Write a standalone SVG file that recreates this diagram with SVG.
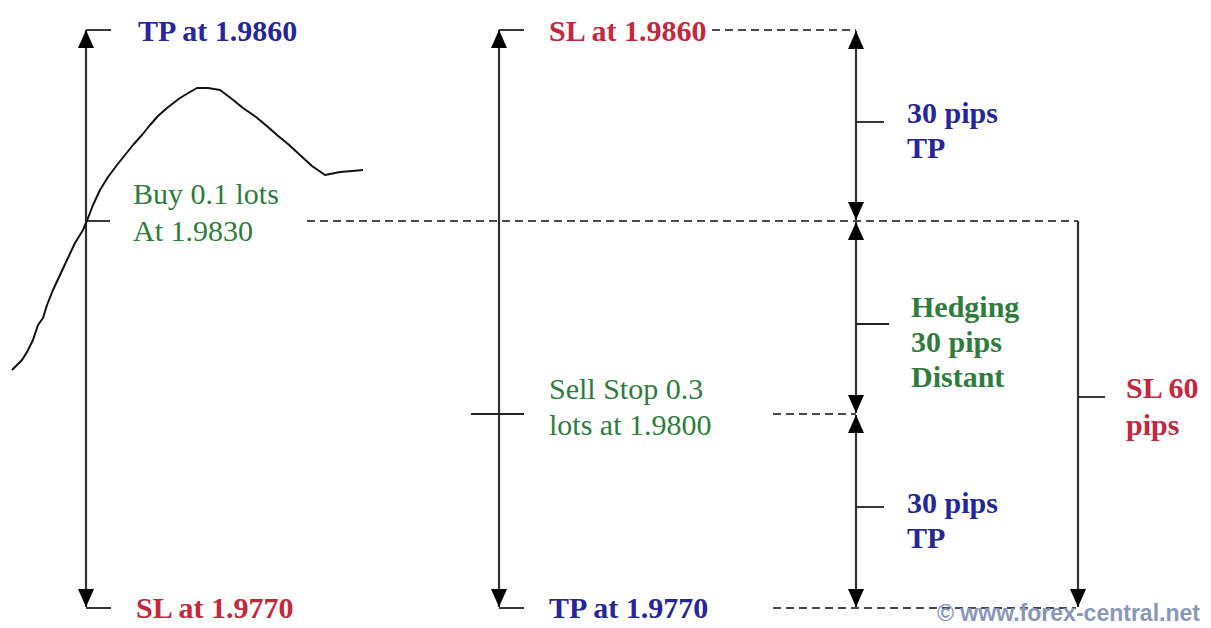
<svg xmlns="http://www.w3.org/2000/svg" width="1211" height="628" viewBox="0 0 1211 628">
<style>
text{font-family:"Liberation Serif","Times New Roman",serif;font-size:30px}
.b{font-weight:bold}
.blue{fill:#26269a}
.red{fill:#c4283c}
.green{fill:#2e7d3c}
.ln{stroke:#333;stroke-width:2.2;fill:none}
.tk{stroke:#222;stroke-width:1.8;fill:none}
.ds{stroke:#111;stroke-width:1.6;stroke-dasharray:8 5;fill:none}
.wm{font-family:"Liberation Sans",Arial,sans-serif;font-size:23px;fill:#8a98b8;font-weight:bold}
</style>
<defs>
<marker id="ah" viewBox="0 0 18 16" refX="18" refY="8" markerWidth="18" markerHeight="16" markerUnits="userSpaceOnUse" orient="auto-start-reverse">
<path d="M0,0 L18,8 L0,16 z" fill="#000"/>
</marker>
</defs>
<rect width="1211" height="628" fill="#fff"/>
<g id="connectors">
<line class="ln" x1="86" y1="30" x2="86" y2="607" marker-start="url(#ah)" marker-end="url(#ah)"/>
<line class="tk" x1="86" y1="30" x2="111" y2="30"/>
<line class="tk" x1="86" y1="221" x2="110" y2="221"/>
<line class="tk" x1="86" y1="608" x2="111" y2="608"/>
<line class="ln" x1="499" y1="30" x2="499" y2="607" marker-start="url(#ah)" marker-end="url(#ah)"/>
<line class="tk" x1="499" y1="30" x2="524" y2="30"/>
<line class="tk" x1="471" y1="414" x2="524" y2="414"/>
<line class="tk" x1="499" y1="608" x2="524" y2="608"/>
<line class="ds" x1="712" y1="30" x2="856" y2="30"/>
<line class="ds" x1="307" y1="221" x2="1078" y2="221"/>
<line class="ds" x1="773" y1="414" x2="856" y2="414"/>
<line class="ds" x1="773" y1="608" x2="1076" y2="608"/>
<line class="ln" x1="856" y1="31" x2="856" y2="220" marker-start="url(#ah)" marker-end="url(#ah)"/>
<line class="ln" x1="856" y1="222" x2="856" y2="413" marker-start="url(#ah)" marker-end="url(#ah)"/>
<line class="ln" x1="856" y1="415" x2="856" y2="607" marker-start="url(#ah)" marker-end="url(#ah)"/>
<line class="tk" x1="856" y1="122" x2="884" y2="122"/>
<line class="tk" x1="856" y1="324" x2="889" y2="324"/>
<line class="tk" x1="856" y1="507" x2="884" y2="507"/>
<line class="ln" x1="1078" y1="221" x2="1078" y2="607" marker-end="url(#ah)"/>
<line class="tk" x1="1078" y1="397" x2="1105" y2="397"/>
</g>
<g id="price-curve">
<path d="M12,370 L16,366 L22,360 L27,352 L33,340 L38,325 L43,318 L47,305 L53,290 L60,275 L67,260 L75,243 L83,230 L88,218 L93,205 L100,190 L108,177 L117,165 L125,155 L133,145 L142,135 L150,125 L158,116 L167,108 L180,98 L190,92 L197,88 L208,88 L220,90 L232,99 L243,108 L256,117 L268,127 L277,135 L288,144 L300,155 L312,166 L325,175 L340,172 L352,171 L363,170" stroke="#111" stroke-width="2" fill="none" stroke-linejoin="round"/>
</g>
<g id="tp-left"><text class="b blue" x="138" y="41">TP at 1.9860</text></g>
<g id="buy"><text class="green" x="133" y="204">Buy 0.1 lots</text><text class="green" x="133" y="241">At 1.9830</text></g>
<g id="sl-left"><text class="b red" x="136" y="618">SL at 1.9770</text></g>
<g id="sl-mid"><text class="b red" x="549" y="41">SL at 1.9860</text></g>
<g id="sellstop"><text class="green" x="549" y="399">Sell Stop 0.3</text><text class="green" x="549" y="435">lots at 1.9800</text></g>
<g id="tp-mid"><text class="b blue" x="549" y="618">TP at 1.9770</text></g>
<g id="tp30-top"><text class="b blue" x="907" y="123">30 pips</text><text class="b blue" x="907" y="158">TP</text></g>
<g id="hedging"><text class="b green" x="911" y="317">Hedging</text><text class="b green" x="911" y="352">30 pips</text><text class="b green" x="911" y="387">Distant</text></g>
<g id="tp30-bottom"><text class="b blue" x="907" y="513">30 pips</text><text class="b blue" x="907" y="548">TP</text></g>
<g id="sl60"><text class="b red" x="1126" y="398">SL 60</text><text class="b red" x="1126" y="435">pips</text></g>
<g id="watermark"><text class="wm" x="937" y="621" textLength="263" lengthAdjust="spacingAndGlyphs">© www.forex-central.net</text></g>
</svg>
